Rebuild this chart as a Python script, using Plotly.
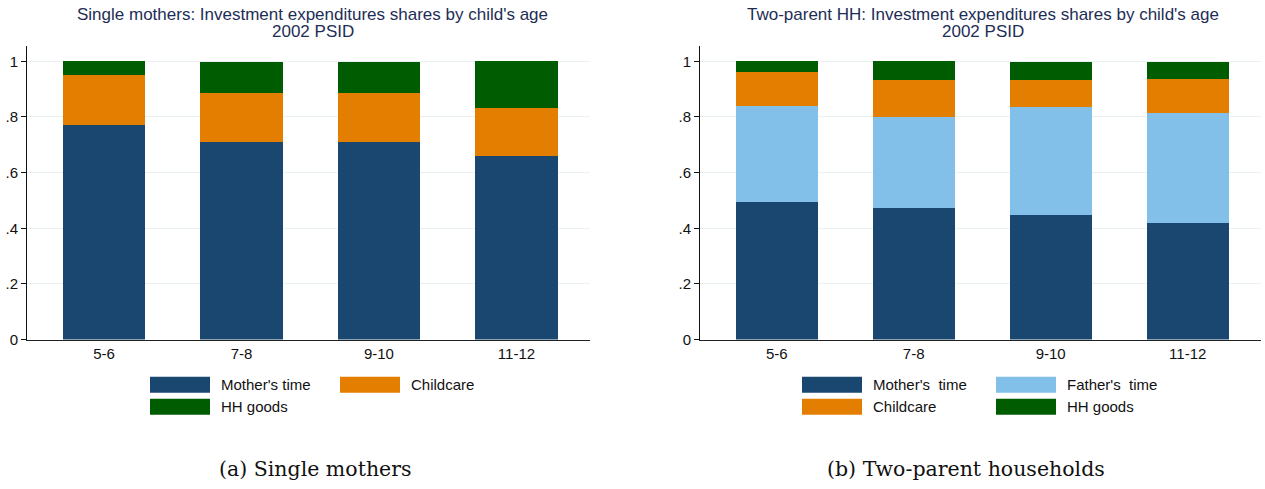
import plotly.graph_objects as go

# ---- data ----
ages = ["5-6", "7-8", "9-10", "11-12"]
y_tickvals = [0, 0.2, 0.4, 0.6, 0.8, 1.0]
y_ticktext = ["0", ".2", ".4", ".6", ".8", "1"]

# Single mothers (shares)
sm_mother = [0.771, 0.711, 0.711, 0.660]
sm_childcare = [0.180, 0.175, 0.175, 0.172]
sm_goods = [0.049, 0.113, 0.113, 0.168]

# Two-parent households (shares)
tp_mother = [0.494, 0.473, 0.449, 0.420]
tp_father = [0.345, 0.327, 0.387, 0.393]
tp_childcare = [0.123, 0.133, 0.097, 0.124]
tp_goods = [0.038, 0.067, 0.065, 0.061]

titles_line1 = ["Single mothers: Investment expenditures shares by child's age",
                "Two-parent HH: Investment expenditures shares by child's age"]
titles_line2 = ["2002 PSID", "2002 PSID"]
captions = ["(a) Single mothers", "(b) Two-parent households"]

C_MOTHER = "#1a476f"
C_FATHER = "#82bfe9"
C_CHILD = "#e37e00"
C_GOODS = "#005c00"
TITLE_C = "#1e2d55"

W, H = 1265, 489
KY = 1.016  # vertical calibration


def px(x):
    return x / W


def py(y):
    return 1 - (y * KY) / H


fig = go.Figure()

left_series = [("Mother's time", sm_mother, C_MOTHER),
               ("Childcare", sm_childcare, C_CHILD),
               ("HH goods", sm_goods, C_GOODS)]
right_series = [("Mother's  time", tp_mother, C_MOTHER),
                ("Father's  time", tp_father, C_FATHER),
                ("Childcare", tp_childcare, C_CHILD),
                ("HH goods", tp_goods, C_GOODS)]

for name, vals, col in left_series:
    fig.add_trace(go.Bar(x=ages, y=vals, name=name, marker=dict(color=col, line=dict(width=0)),
                         width=0.6, xaxis="x", yaxis="y", showlegend=False))
for name, vals, col in right_series:
    fig.add_trace(go.Bar(x=ages, y=vals, name=name, marker=dict(color=col, line=dict(width=0)),
                         width=0.6, xaxis="x2", yaxis="y2", showlegend=False))

font_sans = "Liberation Sans, Arial, sans-serif"

xcommon = dict(type="category", range=[-0.56, 3.535], showline=True, linecolor="#222",
               linewidth=1, ticks="", showgrid=False, zeroline=False,
               tickfont=dict(family=font_sans, size=15, color="#111"))
ycommon = dict(range=[0, 1.055], tickvals=y_tickvals, ticktext=y_ticktext, showline=True,
               linecolor="#111", linewidth=1, ticks="outside", ticklen=5, tickcolor="#111",
               showgrid=True, gridcolor="#e9f1f3", gridwidth=1, zeroline=False,
               tickfont=dict(family=font_sans, size=15, color="#111"))

ydom = [py(339.8), py(46)]
fig.update_layout(
    autosize=True,
    margin=dict(l=0, r=0, t=0, b=0),
    paper_bgcolor="white", plot_bgcolor="white",
    barmode="stack",
    xaxis=dict(domain=[px(27), px(590)], anchor="y", **xcommon),
    yaxis=dict(domain=ydom, anchor="x", **ycommon),
    xaxis2=dict(domain=[px(700), px(1261)], anchor="y2", **xcommon),
    yaxis2=dict(domain=ydom, anchor="x2", **ycommon),
    showlegend=False,
)

# titles (two lines)
for cx, t1, t2 in [((27 + 590) / 2 + 4, titles_line1[0], titles_line2[0]),
                   ((700 + 1261) / 2 + 2, titles_line1[1], titles_line2[1])]:
    fig.add_annotation(x=px(cx), y=py(14.5), xref="paper", yref="paper", text=t1, showarrow=False,
                       xanchor="center", yanchor="middle",
                       font=dict(family=font_sans, size=17, color=TITLE_C))
    fig.add_annotation(x=px(cx), y=py(31.5), xref="paper", yref="paper", text=t2, showarrow=False,
                       xanchor="center", yanchor="middle",
                       font=dict(family=font_sans, size=17, color=TITLE_C))

# manual legends (swatches + labels)
legend_left = [(left_series[0], 150, 385), (left_series[1], 340, 385), (left_series[2], 150, 407)]
legend_right = [(right_series[0], 802, 385), (right_series[1], 996, 385),
                (right_series[2], 802, 407), (right_series[3], 996, 407)]
for (name, _, col), x0, yc in legend_left + legend_right:
    fig.add_shape(type="rect", xref="paper", yref="paper", x0=px(x0), x1=px(x0 + 60),
                  y0=py(yc + 8), y1=py(yc - 8), fillcolor=col, line=dict(width=0))
    fig.add_annotation(x=px(x0 + 69), y=py(yc), xref="paper", yref="paper", text=name,
                       showarrow=False, xanchor="left", yanchor="middle",
                       font=dict(family=font_sans, size=15, color="#111"))

# captions
for cx, t in [(315, captions[0]), (966, captions[1])]:
    fig.add_annotation(x=px(cx), y=py(469), xref="paper", yref="paper", text=t, showarrow=False,
                       xanchor="center", yanchor="middle",
                       font=dict(family="DejaVu Serif, Liberation Serif, serif", size=20.5,
                                 color="#111"))

fig.write_html("out.html",
               default_width="100vw", default_height="100vh",
               config={"displayModeBar": False, "responsive": True},
               post_script="document.body.style.margin='0px';"
                           "document.body.style.overflow='hidden';"
                           "document.documentElement.style.overflow='hidden';")
